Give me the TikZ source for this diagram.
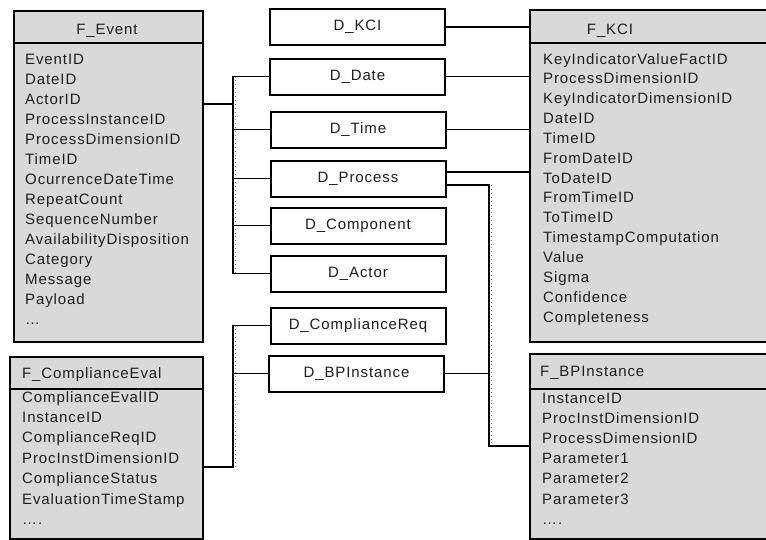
\documentclass[tikz,border=0pt]{standalone}
\usepackage{fontspec}
\setmainfont{Liberation Sans}[LetterSpace=6]
\usepackage{tikz}
\usetikzlibrary{positioning}

\definecolor{tabgray}{RGB}{217,217,217}
\definecolor{txtgray}{RGB}{30,30,30}

\tikzset{
  tabbox/.style={draw=black,fill=tabgray,line width=2pt,inner sep=0pt,anchor=north west},
  dimbox/.style={draw=black,fill=white,line width=2pt,minimum width=175pt,minimum height=36pt,inner sep=0pt},
  row/.style={anchor=base west,inner sep=0pt},
  conn/.style={line width=1.9pt},
  tickmarks/.style={gray,line width=0.7pt,dash pattern=on 0.7pt off 3.2pt}
}

\begin{document}
\begin{tikzpicture}[line cap=butt,line join=miter,x=1pt,y=-1pt,font=\fontsize{15}{20}\selectfont,text=txtgray]
\useasboundingbox (0,0) rectangle (766,539);
\clip (0,0) rectangle (766,539);

% fact tables
\node[tabbox,minimum width=189pt,minimum height=331pt] (fevent) at (13,10) {};
\draw[line width=2pt] (13,43) -- (202,43);
\node[anchor=base] (feventh) at (107,34) {F\_Event};
\foreach \t [count=\i] in {EventID,DateID,ActorID,ProcessInstanceID,ProcessDimensionID,TimeID,OcurrenceDateTime,RepeatCount,SequenceNumber,AvailabilityDisposition,Category,Message,Payload,\dots}
  \node[row] (fevent-\i) at (25,{64+20*(\i-1)}) {\t};

\node[tabbox,minimum width=260pt,minimum height=332pt] (fkci) at (529,9) {};
\draw[line width=2pt] (529,43) -- (790,43);
\node[anchor=base] (fkcih) at (610,34) {F\_KCI};
\foreach \t [count=\i] in {KeyIndicatorValueFactID,ProcessDimensionID,KeyIndicatorDimensionID,DateID,TimeID,FromDateID,ToDateID,FromTimeID,ToTimeID,TimestampComputation,Value,Sigma,Confidence,Completeness}
  \node[row] (fkci-\i) at (543,{64+19.85*(\i-1)}) {\t};

\node[tabbox,minimum width=193pt,minimum height=182pt] (fceval) at (9,356) {};
\draw[line width=2pt] (9,389) -- (202,389);
\node[row] (fcevalh) at (22,378) {F\_ComplianceEval};
\foreach \t [count=\i] in {ComplianceEvalID,InstanceID,ComplianceReqID,ProcInstDimensionID,ComplianceStatus,EvaluationTimeStamp,\dots.}
  \node[row] (fceval-\i) at (22,{402+20.4*(\i-1)}) {\t};

\node[tabbox,minimum width=260pt,minimum height=185pt] (fbpi) at (529,353) {};
\draw[line width=2pt] (529,389) -- (790,389);
\node[row] (fbpih) at (540,376) {F\_BPInstance};
\foreach \t [count=\i] in {InstanceID,ProcInstDimensionID,ProcessDimensionID,Parameter1,Parameter2,Parameter3,\dots.}
  \node[row] (fbpi-\i) at (542,{403+20.2*(\i-1)}) {\t};

% dimension tables
\node[dimbox] (dkci) at (357.5,27) {D\_KCI};
\node[dimbox] (ddate) at (357.5,76.5) {D\_Date};
\node[dimbox] (dtime) at (358,129.5) {D\_Time};
\node[dimbox] (dprocess) at (358,178.5) {D\_Process};
\node[dimbox] (dcomponent) at (358,225.5) {D\_Component};
\node[dimbox] (dactor) at (358,273.5) {D\_Actor};
\node[dimbox] (dcreq) at (358,325.5) {D\_ComplianceReq};
\node[dimbox] (dbpi) at (356.5,373.5) {D\_BPInstance};

% buses
\coordinate (busA) at (233,104);
\coordinate (busB) at (233,467);
\coordinate (busC) at (489,446);

\draw[tickmarks] ([xshift=2.5pt]ddate.west -| busA) -- ([xshift=2.5pt]dactor.west -| busA);
\draw[conn] (ddate.west) -- (ddate.west -| busA) -- (dactor.west -| busA) -- (dactor.west);
\foreach \n in {dtime,dprocess,dcomponent}
  \draw[conn] (\n.west) -- (\n.west -| busA);
\draw[conn] (busA -| fevent.east) -- (busA);

\draw[tickmarks] ([xshift=2.5pt]dcreq.west -| busB) -- ([xshift=2.5pt]busB);
\draw[conn] (dcreq.west) -- (dcreq.west -| busB) -- (busB) -- (busB -| fceval.east);
\draw[conn] (dbpi.west) -- (dbpi.west -| busB);

\draw[tickmarks] ([xshift=2.5pt,yshift=-6.5pt]dprocess.east -| busC) -- ([xshift=2.5pt]busC);
\draw[conn] ([yshift=-6.5pt]dprocess.east) -- ([yshift=-6.5pt]dprocess.east -| busC) -- (busC) -- (busC -| fbpi.west);
\draw[conn] (dbpi.east) -- (dbpi.east -| busC);

\foreach \n in {dkci,ddate,dtime}
  \draw[conn] (\n.east) -- (\n.east -| fkci.west);
\draw[conn] ([yshift=6.5pt]dprocess.east) -- ([yshift=6.5pt]dprocess.east -| fkci.west);
\end{tikzpicture}
\end{document}
